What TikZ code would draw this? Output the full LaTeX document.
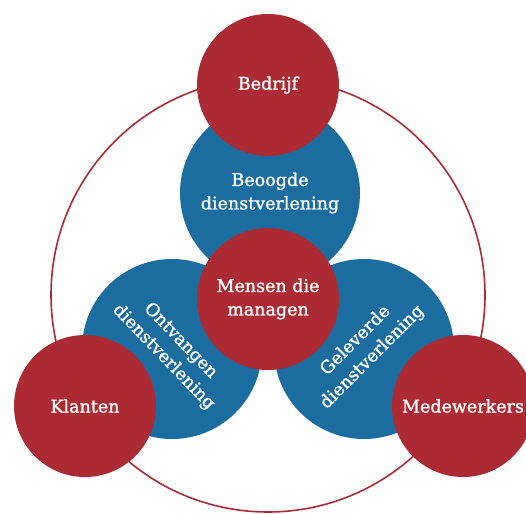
\documentclass[tikz,border=0pt]{standalone}
\usepackage{fontspec}
\setmainfont{DejaVu Serif}
\newfontfamily\labelfont[FakeBold=1.2]{DejaVu Serif}
\usepackage{xcolor}
\usetikzlibrary{positioning}
\definecolor{ringred}{HTML}{AC2A33}
\definecolor{ringblue}{HTML}{1B6DA0}

\begin{document}
\begin{tikzpicture}[x=1pt,y=-1pt]
  \tikzset{ring/.style = {shape=circle,draw=ringred,line width=1.6pt,minimum size=434pt,inner sep=0pt}}
  \tikzset{party/.style = {shape=circle,fill=ringred,minimum size=142pt,inner sep=0pt,text=white,align=center,font=\labelfont\fontsize{17.5}{23.5}\selectfont}}
  \tikzset{service/.style = {shape=circle,fill=ringblue,minimum size=180pt,inner sep=0pt,text=white,align=center,font=\labelfont\fontsize{17.5}{23.5}\selectfont}}

  \clip (0,0) rectangle (526,513);

  \node[ring] (R) at (268,295) {};

	\node[service] (BD) at (270,193) {Beoogde\\dienstverlening};
	\node[service, rotate=-46] (OD) at (172,349) {Ontvangen\\dienstverlening};
	\node[service, rotate=45] (GD) at (364,349) {Geleverde\\dienstverlening};

	\node[party] (B) at (268,85) {Bedrijf};
	\node[party] (K) at (85,406) {Klanten};
	\node[party] (M) at (463,406) {Medewerkers};
	\node[party] (MM) at (268,299) {Mensen die\\managen};

\end{tikzpicture}
\end{document}
